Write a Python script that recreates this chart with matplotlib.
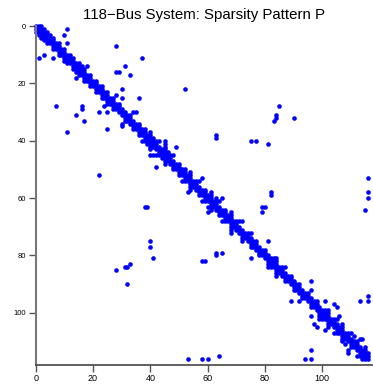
import numpy as np
import matplotlib
matplotlib.use("Agg")
import matplotlib.pyplot as plt

n = 117

# upper-triangle nonzeros (row, col); the pattern is symmetric
band_pairs = [
    (0, 1), (0, 2), (1, 2), (1, 3), (2, 3), (2, 4), (3, 4), (3, 5), (4, 5), (4, 6),
    (5, 6), (6, 7), (6, 8), (7, 8), (8, 9), (8, 10), (9, 10), (10, 11), (10, 12),
    (11, 12), (11, 13), (12, 13),
    (13, 14), (13, 15), (14, 15), (14, 16), (15, 16), (15, 17), (16, 17), (17, 18),
    (17, 19), (18, 19), (19, 20), (19, 21), (20, 21), (21, 22), (21, 23), (22, 23),
    (23, 24), (23, 25), (24, 25), (25, 26), (25, 27), (26, 27), (27, 28), (27, 29),
    (28, 29), (29, 30),
    (30, 31), (31, 32), (31, 33), (32, 33), (33, 34), (34, 35), (34, 36), (35, 36),
    (36, 37), (36, 38), (37, 38), (38, 39), (38, 40), (39, 40), (39, 41), (40, 41),
    (40, 42), (40, 43), (41, 42), (42, 43), (43, 44), (43, 45), (44, 45), (44, 46),
    (45, 46), (45, 47), (45, 48), (46, 47), (47, 48), (48, 49), (48, 50), (49, 50),
    (37, 40), (42, 45), (41, 45), (40, 45),
    (50, 51), (50, 52), (51, 52), (52, 53), (52, 54), (53, 54), (51, 54), (54, 55),
    (54, 56), (54, 57), (55, 56), (56, 57), (57, 58), (57, 59), (58, 59), (59, 60),
    (59, 61), (60, 61), (58, 61), (61, 62), (61, 63), (61, 64), (62, 63), (63, 64),
    (64, 65), (64, 66), (65, 66), (66, 67), (66, 68), (65, 68), (67, 68), (68, 69),
    (68, 70), (68, 71), (69, 70), (68, 72), (53, 58), (60, 63), (60, 65),
    (70, 71), (71, 72), (72, 73), (72, 74), (73, 74), (72, 75), (74, 75), (75, 76),
    (75, 77), (76, 77), (77, 78), (78, 79), (78, 80), (79, 80), (80, 81), (81, 82),
    (81, 83), (82, 83), (82, 84), (81, 84), (83, 84), (84, 85), (84, 86), (84, 87),
    (85, 86), (86, 87), (87, 88), (87, 89), (88, 89), (89, 90), (75, 81),
    (90, 91), (90, 92), (91, 92), (92, 93), (93, 94), (93, 95), (94, 95), (95, 96),
    (96, 97), (96, 98), (97, 98), (98, 99), (99, 100), (99, 101), (100, 101),
    (100, 102), (99, 102), (101, 102), (102, 103), (102, 104), (102, 105),
    (103, 104), (104, 105), (105, 106), (105, 107), (104, 107), (106, 107),
    (107, 108), (107, 109), (107, 110), (108, 109), (109, 110), (110, 111),
    (110, 112), (111, 112), (112, 113), (113, 114), (113, 115), (114, 115),
    (114, 116), (115, 116),
    (89, 96), (92, 96), (96, 101), (97, 104), (98, 105), (101, 106), (108, 111),
    (109, 113), (112, 115),
]

near_pairs = [
    (1, 11), (3, 10), (6, 11), (14, 18), (16, 28), (16, 29), (14, 31), (17, 33),
    (22, 30), (24, 28), (25, 30), (30, 34), (30, 35), (42, 49),
]

far_pairs = [
    (7, 28), (11, 37), (22, 52), (25, 36), (28, 85), (31, 84), (32, 84), (33, 83),
    (32, 90), (38, 63), (39, 63), (40, 75), (40, 77), (41, 81), (53, 116),
    (58, 116), (60, 116), (58, 82), (59, 82), (63, 79), (63, 80), (65, 79),
    (64, 115), (94, 116), (96, 116), (96, 113), (109, 114),
]

rows, cols = [], []
for i in range(n):
    rows.append(i)
    cols.append(i)
for (r, c) in band_pairs + near_pairs + far_pairs:
    rows += [r, c]
    cols += [c, r]

plt.rcParams['font.family'] = ['Liberation Sans', 'DejaVu Sans']

fig = plt.figure(figsize=(3.73, 3.88), dpi=100)
ax = fig.add_axes([35.7 / 373, 23.3 / 388, 337.3 / 373, 338.6 / 388])
ax.plot(cols, rows, 'o', color='#0000ff', markersize=3.3, markeredgewidth=0,
        clip_on=False)
ax.set_xlim(0, 117.7)
ax.set_ylim(118.1, 0)
ax.set_xticks([0, 20, 40, 60, 80, 100])
ax.set_yticks([0, 20, 40, 60, 80, 100])
for s in ['top', 'right']:
    ax.spines[s].set_visible(False)
ax.spines['left'].set_color('#777777')
ax.spines['left'].set_linewidth(1.5)
ax.spines['bottom'].set_color('#444444')
ax.spines['bottom'].set_linewidth(1.2)
ax.tick_params(axis='both', direction='out', length=5, width=1, color='#555555',
               labelsize=6.5, pad=2)
ax.tick_params(axis='y', labelsize=5.5)
ax.set_title('118\u2212Bus System: Sparsity Pattern P', fontsize=10.8, pad=5)

fig.savefig('out.png', dpi=100)
